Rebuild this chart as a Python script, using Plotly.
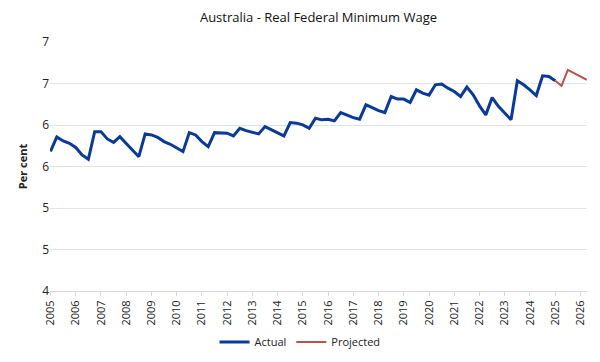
import plotly.graph_objects as go

start_year = 2005
actual = [5.681, 5.856, 5.808, 5.780, 5.729, 5.639, 5.587, 5.920,
          5.920, 5.832, 5.790, 5.860, 5.778, 5.699, 5.618, 5.893,
          5.880, 5.850, 5.800, 5.768, 5.720, 5.679, 5.908, 5.880,
          5.800, 5.739, 5.908, 5.908, 5.901, 5.868, 5.961, 5.932,
          5.913, 5.893, 5.981, 5.941, 5.901, 5.868, 6.029, 6.022,
          6.001, 5.961, 6.082, 6.062, 6.070, 6.050, 6.150, 6.118,
          6.089, 6.070, 6.243, 6.210, 6.174, 6.150, 6.343, 6.312,
          6.312, 6.271, 6.424, 6.384, 6.360, 6.484, 6.493, 6.444,
          6.403, 6.343, 6.457, 6.364, 6.231, 6.122, 6.331, 6.225,
          6.143, 6.062, 6.533, 6.484, 6.424, 6.355, 6.593, 6.585,
          6.533]
projected = [6.533, 6.472, 6.665, 6.626, 6.585, 6.545]

year_ticks = list(range(2005, 2027))
y_ticks = [4, 4.5, 5, 5.5, 6, 6.5, 7]
y_labels = ["4", "5", "5", "6", "6", "7", "7"]

x_actual = [start_year + i / 4 for i in range(len(actual))]
off = len(actual) - 1
x_proj = [start_year + (off + i) / 4 for i in range(len(projected))]

fig = go.Figure()
fig.add_trace(go.Scatter(x=x_actual, y=actual, mode="lines", name="Actual",
                         line=dict(color="#0a3a99", width=3)))
fig.add_trace(go.Scatter(x=x_proj, y=projected, mode="lines", name="Projected",
                         line=dict(color="#c0504d", width=2)))

font_family = "Open Sans, Liberation Sans, sans-serif"
fig.update_layout(
    width=600, height=362,
    margin=dict(l=50, r=13, t=42, b=71, autoexpand=False),
    paper_bgcolor="white", plot_bgcolor="white",
    font=dict(family=font_family, color="#222222", size=11),
    title=dict(text="Australia - Real Federal Minimum Wage", x=0.5, xanchor="center",
               xref="paper", yref="container",
               y=1 - 17 / 362, yanchor="middle", font=dict(size=13, color="#111111")),
    showlegend=True,
    legend=dict(orientation="h", x=0.5, xanchor="center", xref="container",
                yref="container", y=20 / 362, yanchor="middle",
                font=dict(size=11), traceorder="normal"),
    xaxis=dict(range=[2004.98, 2026.26], tickmode="array", tickvals=year_ticks,
               ticktext=[str(y) for y in year_ticks], tickangle=-90,
               showgrid=False, zeroline=False, showline=True, linecolor="#d9d9d9",
               ticks="outside", ticklen=4, tickcolor="#d9d9d9",
               tickfont=dict(size=11), automargin=False),
    yaxis=dict(range=[4, 7], tickmode="array", tickvals=y_ticks, ticktext=y_labels,
               showgrid=True, gridcolor="#e3e3e3", gridwidth=1, zeroline=False,
               showline=False, ticks="", tickfont=dict(size=12), automargin=False,
               title=dict(text="<b>Per cent</b>", font=dict(size=11), standoff=12)),
)

fig.write_html("out.html", config={"displayModeBar": False},
               post_script="document.body.style.margin='0';")
